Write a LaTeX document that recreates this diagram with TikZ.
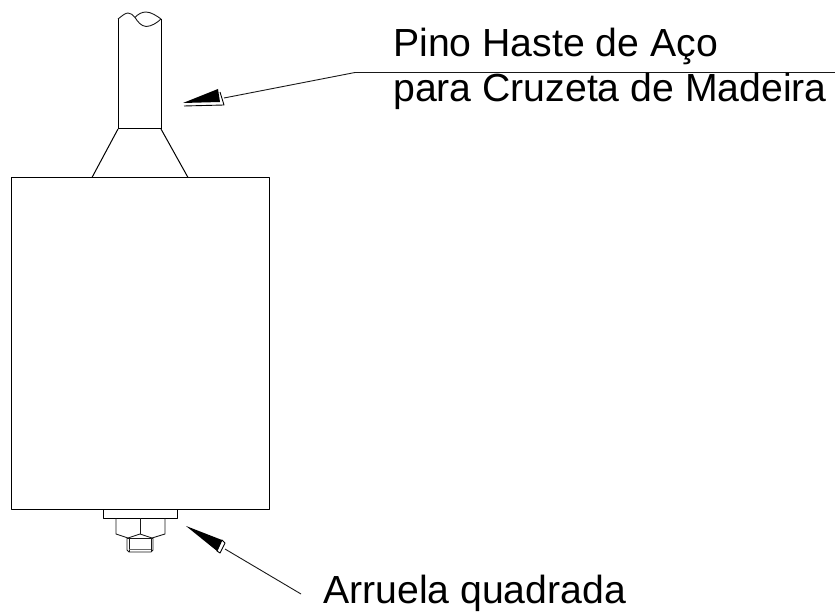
\documentclass[tikz,border=0pt]{standalone}
\usepackage{fontspec}
\setmainfont{Liberation Sans}
\usetikzlibrary{positioning}
\begin{document}
\begin{tikzpicture}[x=1pt,y=-1pt,line join=round,
    part line/.style={-,line width=1pt,color=black},
    thin line/.style={-,line width=0.9pt,color=black!90},
    arrow head/.style={fill=black,draw=none},
    arrow tail/.style={fill=white,draw=black,line width=0.9pt},
    label node/.style={anchor=base west,inner sep=0pt,font=\fontsize{39.2}{39.2}\selectfont}]
   \useasboundingbox (0,0) rectangle (835,612);
   % corpo
   \draw[part line] (11,177.5) rectangle (269,509);
   % haste
   \coordinate (rod tl) at (118,19);
   \coordinate (rod tr) at (161,19);
   \coordinate (rod bl) at (118,129);
   \coordinate (rod br) at (161,129);
   \coordinate (cone l) at (92,177.5);
   \coordinate (cone r) at (188,177.5);
   \path[part line] (rod tl) edge (rod bl);
   \path[part line] (rod tr) edge (rod br);
   \path[part line] (rod bl) edge (rod br);
   \path[part line] (rod bl) edge (cone l);
   \path[part line] (rod br) edge (cone r);
   \coordinate (brk) at (135,17.5);
   \draw[thin line] (rod tl) .. controls (122,16) and (125,13) .. (128,13) .. controls (131,13) and (133,15) .. (brk);
   \draw[thin line] (brk) .. controls (138,14) and (142,12) .. (146,12) .. controls (151,12) and (157,16) .. (rod tr);
   \draw[thin line] (brk) .. controls (138,22) and (141,26) .. (146,26.5) .. controls (151,26.5) and (157,23) .. (rod tr);
   % arruela e porca
   \draw[part line] (103,509) rectangle (177,518);
   \draw[thin line] (116,518) -- (116,534) -- (128,538) -- (140,534) -- (152,538) -- (165,534) -- (165,518);
   \draw[thin line] (140,518) -- (140,534);
   \draw[thin line] (127,538) -- (127,550) -- (129,552) -- (151,552) -- (153,550) -- (153,538);
   \draw[thin line] (127,538) -- (153,538);
   \draw[thin line] (129,538) -- (129,552);
   \draw[thin line] (151,538) -- (151,552);
   \draw[line width=1pt,color=black!60] (129,549) -- (151,549);
   % seta superior
   \coordinate (tip a) at (183,103);
   \coordinate (tail a) at (224,98);
   \coordinate (knee a) at (355,72.5);
   \coordinate (end a) at (835,72.5);
   \draw[arrow tail] (184,106) -- (224,105) -- (220,92);
   \fill[arrow head] (tip a) -- (218,89) -- (220,102) -- cycle;
   \draw[thin line] (tail a) -- (knee a) -- (end a);
   % seta inferior
   \coordinate (tip b) at (186,526);
   \coordinate (tail b) at (225,549);
   \coordinate (end b) at (301,594);
   \draw[arrow tail] (222,540) -- (225,543) -- (220,553) -- (217,551) -- cycle;
   \fill[arrow head] (tip b) -- (222,540) -- (217,551) -- cycle;
   \path[thin line] (tail b) edge (end b);
   % textos
   \node[label node] (pino) at (393,57) {Pino Haste de Aço};
   \node[label node] (cruzeta) at (393,102) {para Cruzeta de Madeira};
   \node[label node] (arruela) at (323,603) {Arruela quadrada};
\end{tikzpicture}
\end{document}
